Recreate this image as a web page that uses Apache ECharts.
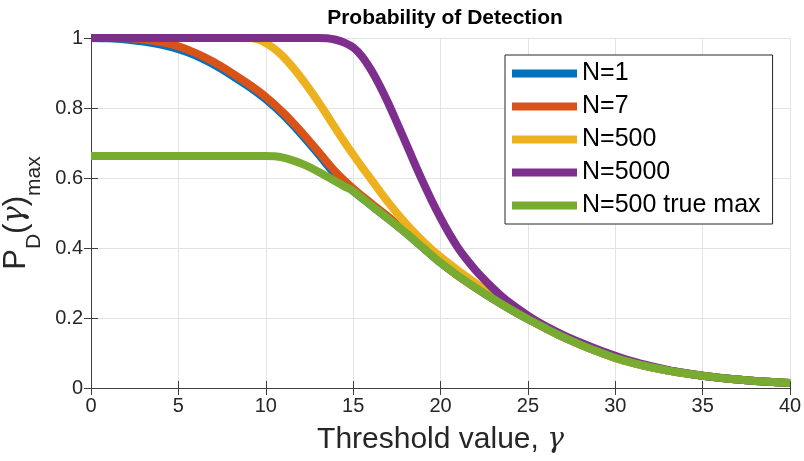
<!DOCTYPE html>
<html>
<head>
<meta charset="utf-8">
<script src="https://cdn.jsdelivr.net/npm/echarts@6/dist/echarts.min.js"></script>
<style>
  html, body { margin: 0; padding: 0; background: #fff; }
  #main { width: 804px; height: 461px; }
</style>
</head>
<body>
<div id="main"></div>
<script>
// values
var seriesNames = ['N=1', 'N=7', 'N=500', 'N=5000', 'N=500 true max'];
var colors = ['#0072BD', '#D95319', '#EDB120', '#7E2F8E', '#77AC30'];
var xTicks = [0, 5, 10, 15, 20, 25, 30, 35, 40];
var yTicks = [0, 0.2, 0.4, 0.6, 0.8, 1];

var gammaN1 = [0, 1, 2, 3, 4, 5, 6, 7, 8, 9, 10, 11, 12, 13, 14, 15, 16, 17, 18, 19, 20,
               21, 22, 23, 24, 25, 26, 27, 28, 29, 30, 31, 32, 33, 34, 35, 36, 37, 38, 39, 40];
var pdN1 = [1, 0.999, 0.996, 0.99, 0.981, 0.968, 0.95, 0.925, 0.895, 0.862, 0.825,
            0.78, 0.727, 0.669, 0.609, 0.563, 0.523, 0.484, 0.444, 0.401, 0.358,
            0.321, 0.287, 0.255, 0.225, 0.197, 0.171, 0.146, 0.124, 0.104, 0.086,
            0.072, 0.06, 0.05, 0.042, 0.035, 0.029, 0.024, 0.02, 0.017, 0.014];

var gammaN7 = [0, 1, 2, 3, 4, 5, 6, 7, 8, 9, 10, 11, 12, 13, 14, 15, 16, 17, 18, 19, 20,
               21, 22, 23, 24, 25, 26, 27, 28, 29, 30, 31, 32, 33, 34, 35, 36, 37, 38, 39, 40];
var pdN7 = [1, 1, 0.999, 0.996, 0.988, 0.976, 0.957, 0.932, 0.902, 0.869, 0.832,
            0.787, 0.734, 0.676, 0.617, 0.57, 0.529, 0.49, 0.447, 0.403, 0.359,
            0.321, 0.287, 0.255, 0.225, 0.197, 0.171, 0.146, 0.124, 0.104, 0.086,
            0.072, 0.06, 0.05, 0.042, 0.035, 0.029, 0.024, 0.02, 0.017, 0.014];

var gammaN500 = [0, 1, 2, 3, 4, 5, 6, 7, 8, 9, 9.5, 10, 10.5, 11, 11.5, 12, 12.5, 13, 13.5,
                 14, 14.5, 15, 15.5, 16, 16.5, 17, 17.5, 18, 18.5, 19, 19.5, 20, 20.5, 21,
                 21.5, 22, 23, 24, 25, 26, 27, 28, 29, 30, 31, 32, 33, 34, 35, 36, 37, 38, 39, 40];
var pdN500 = [1, 1, 1, 1, 1, 1, 1, 1, 1, 1, 0.997, 0.986, 0.969, 0.947, 0.919, 0.888,
              0.854, 0.818, 0.78, 0.741, 0.703, 0.667, 0.632, 0.598, 0.564, 0.531, 0.5,
              0.471, 0.444, 0.419, 0.396, 0.375, 0.355, 0.336, 0.318, 0.3, 0.266, 0.232,
              0.2, 0.172, 0.147, 0.125, 0.105, 0.086, 0.072, 0.06, 0.05, 0.042, 0.035,
              0.029, 0.024, 0.02, 0.017, 0.014];

var gammaN5000 = [0, 1, 2, 3, 4, 5, 6, 7, 8, 9, 10, 11, 12, 13, 13.5, 14, 14.5, 15, 15.5,
                  16, 16.5, 17, 17.5, 18, 18.5, 19, 19.5, 20, 20.5, 21, 21.5, 22, 22.5, 23,
                  23.5, 24, 25, 26, 27, 28, 29, 30, 31, 32, 33, 34, 35, 36, 37, 38, 39, 40];
var pdN5000 = [1, 1, 1, 1, 1, 1, 1, 1, 1, 1, 1, 1, 1, 1, 0.999, 0.995, 0.987, 0.973,
               0.948, 0.911, 0.866, 0.815, 0.759, 0.702, 0.644, 0.588, 0.535, 0.486,
               0.441, 0.401, 0.367, 0.337, 0.31, 0.285, 0.262, 0.242, 0.207, 0.177,
               0.152, 0.13, 0.11, 0.092, 0.076, 0.063, 0.052, 0.043, 0.035, 0.029,
               0.024, 0.02, 0.017, 0.014];

var gammaTrue = [0, 1, 2, 3, 4, 5, 6, 7, 8, 9, 10, 10.5, 11, 11.5, 12, 12.5, 13, 13.5, 14,
                 14.5, 15, 16, 17, 18, 19, 20, 21, 22, 23, 24, 25, 26, 27, 28, 29, 30,
                 31, 32, 33, 34, 35, 36, 37, 38, 39, 40];
var pdTrue = [0.663, 0.663, 0.663, 0.663, 0.663, 0.663, 0.663, 0.663, 0.663, 0.663, 0.663,
              0.662, 0.658, 0.651, 0.642, 0.631, 0.618, 0.604, 0.59, 0.576, 0.563,
              0.523, 0.484, 0.444, 0.401, 0.358, 0.321, 0.287, 0.255, 0.225, 0.197,
              0.171, 0.146, 0.124, 0.104, 0.086, 0.072, 0.06, 0.05, 0.042, 0.035,
              0.029, 0.024, 0.02, 0.017, 0.014];

function pairs(xs, ys) {
    var out = [];
    for (var i = 0; i < xs.length; i++) {
        out.push([xs[i], ys[i]]);
    }
    return out;
}

var allData = [
    pairs(gammaN1, pdN1),
    pairs(gammaN7, pdN7),
    pairs(gammaN500, pdN500),
    pairs(gammaN5000, pdN5000),
    pairs(gammaTrue, pdTrue)
];

var font = 'Liberation Sans, Arial, Helvetica, sans-serif';
var axisColor = '#404040';
var textColor = '#262626';

var series = [];
for (var i = 0; i < seriesNames.length; i++) {
    series.push({
        name: seriesNames[i],
        type: 'line',
        data: allData[i],
        smooth: 0.3,
        showSymbol: false,
        symbol: 'none',
        lineStyle: {width: 8, color: colors[i], cap: 'butt', join: 'round'},
        itemStyle: {color: colors[i]},
        z: 2 + i
    });
}

var myChart = echarts.init(document.getElementById('main'));
myChart.setOption({
    animation: false,
    backgroundColor: '#fff',
    title: {
        text: 'Probability of Detection',
        left: 440,
        textAlign: 'center',
        top: 3,
        textStyle: {fontFamily: font, fontWeight: 'bold', fontSize: 21, color: '#000'}
    },
    legend: {
        orient: 'vertical',
        left: 505,
        top: 55,
        data: seriesNames,
        icon: 'rect',
        itemWidth: 65,
        itemHeight: 8,
        itemGap: 8,
        padding: [6, 12, 6, 7],
        backgroundColor: '#fff',
        borderColor: '#262626',
        borderWidth: 1,
        textStyle: {fontFamily: font, fontSize: 25, color: '#000', lineHeight: 25}
    },
    grid: {left: 91, right: 14, top: 38, bottom: 73, containLabel: false, outerBoundsMode: 'none'},
    xAxis: [{
        type: 'value',
        min: 0, max: 40, interval: 5,
        name: 'Threshold value, {g|γ}',
        nameLocation: 'middle',
        nameGap: 37,
        nameTextStyle: {
            fontFamily: font, fontSize: 30, color: textColor,
            rich: {g: {fontFamily: 'DejaVu Serif, serif', fontStyle: 'italic', fontSize: 28, color: textColor}}
        },
        axisLine: {lineStyle: {color: axisColor, width: 1}},
        axisTick: {inside: true, length: 7, lineStyle: {color: axisColor}},
        axisLabel: {fontFamily: font, fontSize: 20, color: textColor, margin: 8},
        splitLine: {show: true, lineStyle: {color: '#e3e3e3', width: 1}}
    }, {
        type: 'value',
        position: 'top',
        min: 0, max: 40, interval: 5,
        axisLine: {show: true, lineStyle: {color: axisColor, width: 1}},
        axisTick: {show: true, inside: true, length: 7, lineStyle: {color: axisColor}},
        axisLabel: {show: false},
        splitLine: {show: false}
    }],
    yAxis: [{
        type: 'value',
        min: 0, max: 1, interval: 0.2,
        name: '{p|P}{s|D}{p|(}{g|γ}{p|)}{s|max}',
        nameLocation: 'middle',
        nameRotate: 90,
        nameGap: 42,
        nameTextStyle: {
            color: textColor,
            rich: {
                p: {fontFamily: font, fontSize: 31, color: textColor, lineHeight: 31, verticalAlign: 'top'},
                g: {fontFamily: 'DejaVu Serif, serif', fontStyle: 'italic', fontSize: 29, color: textColor, lineHeight: 31, verticalAlign: 'top'},
                s: {fontFamily: font, fontSize: 21, color: textColor, lineHeight: 21, padding: [22, 0, 0, 0], verticalAlign: 'top'}
            }
        },
        axisLine: {show: true, lineStyle: {color: axisColor, width: 1}},
        axisTick: {show: true, inside: true, length: 7, lineStyle: {color: axisColor}},
        axisLabel: {fontFamily: font, fontSize: 20, color: textColor, margin: 8},
        splitLine: {show: true, lineStyle: {color: '#e3e3e3', width: 1}}
    }, {
        type: 'value',
        position: 'right',
        min: 0, max: 1, interval: 0.2,
        axisLine: {show: true, lineStyle: {color: axisColor, width: 1}},
        axisTick: {show: true, inside: true, length: 7, lineStyle: {color: axisColor}},
        axisLabel: {show: false},
        splitLine: {show: false}
    }],
    series: series
});
window.onresize = myChart.resize;
</script>
</body>
</html>
